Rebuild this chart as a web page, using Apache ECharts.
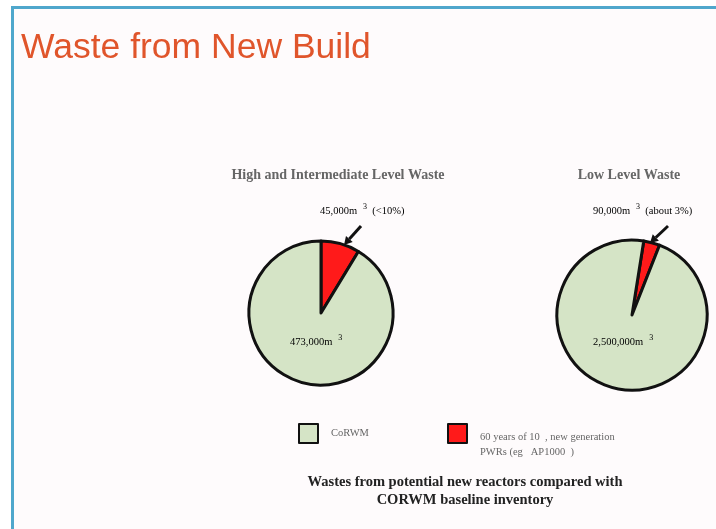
<!DOCTYPE html>
<html>
<head>
<meta charset="utf-8">
<script src="https://cdn.jsdelivr.net/npm/echarts@6/dist/echarts.min.js"></script>
<style>
html,body{margin:0;padding:0;background:#fff;}
#frame{position:absolute;left:11px;top:6px;width:705px;height:523px;border-left:3px solid #4fa7cc;border-top:3px solid #4fa7cc;background:#fefbfc;box-sizing:border-box;}
#chart{position:absolute;left:0;top:0;width:716px;height:529px;}
</style>
</head>
<body>
<div id="frame"></div>
<div id="chart"></div>
<script>
// ---- data ----
const categories = ['60 years of 10  , new generation\nPWRs (eg   AP1000  )', 'CoRWM'];
const legendOrder = ['CoRWM', '60 years of 10  , new generation\nPWRs (eg   AP1000  )'];
const hilwValues = [45000, 473000];
const llwValues = [90000, 2500000];
const pieTitles = ['High and Intermediate Level Waste', 'Low Level Waste'];
const hilwLabels = ['45,000m', '(<10%)', '473,000m'];
const llwLabels = ['90,000m', '(about 3%)', '2,500,000m'];
const mainTitle = 'Waste from New Build';
const captionLines = ['Wastes from potential new reactors compared with', 'CORWM baseline inventory'];

const colors = ['#ff1a1a', '#d5e4c6'];

const chart = echarts.init(document.getElementById('chart'), null, {renderer: 'canvas'});

function pieData(vals) {
  return vals.map((v, i) => ({name: categories[i], value: v, itemStyle: {color: colors[i]}}));
}

const serif = '"Liberation Serif", "DejaVu Serif", serif';

function sup(main, pct) {
  return '{a|' + main + '}{s|3}' + (pct ? '{a|  ' + pct + '}' : '');
}
const richSmall = {
  a: {fontFamily: serif, fontSize: 10.5, color: '#666'},
  s: {fontFamily: serif, fontSize: 8, color: '#666', padding: [0, 0, 9, 6]}
};

function arrow(x1, y1, x2, y2) {
  const ang = Math.atan2(y2 - y1, x2 - x1);
  const L = 8, W = 4.5;
  const bx = x2 - L * Math.cos(ang), by = y2 - L * Math.sin(ang);
  return [
    {type: 'line', shape: {x1: x1, y1: y1, x2: bx, y2: by}, style: {stroke: '#111', lineWidth: 3}, z: 20},
    {type: 'polygon', shape: {points: [[x2, y2], [bx + W * Math.sin(ang), by - W * Math.cos(ang)], [bx - W * Math.sin(ang), by + W * Math.cos(ang)]]}, style: {fill: '#111'}, z: 20}
  ];
}

const option = {
  backgroundColor: 'transparent',
  animation: false,
  title: [
    {text: mainTitle, left: 21, top: 30, padding: 0, textStyle: {fontFamily: 'Liberation Sans, Arial, sans-serif', fontSize: 35.5, fontWeight: 'normal', color: '#e0552b'}},
    {text: pieTitles[0], left: 338, top: 168, padding: 0, textAlign: 'center', textStyle: {fontFamily: serif, fontSize: 14, fontWeight: 'bold', color: '#666'}},
    {text: pieTitles[1], left: 629, top: 168, padding: 0, textAlign: 'center', textStyle: {fontFamily: serif, fontSize: 14, fontWeight: 'bold', color: '#666'}},
    {text: captionLines.join('\n'), left: 465, top: 473, padding: 0, textAlign: 'center', textStyle: {fontFamily: serif, fontSize: 14.5, fontWeight: 'bold', color: '#222', lineHeight: 18}}
  ],
  legend: [
    {data: [legendOrder[0]], left: 298, top: 423, padding: 0, itemWidth: 19, itemHeight: 19, icon: 'rect', orient: 'vertical',
     textStyle: {fontFamily: serif, fontSize: 10.5, color: '#666', padding: [0, 0, 0, 8]}},
    {data: [legendOrder[1]], left: 447, top: 407, padding: 0, itemWidth: 19, itemHeight: 19, icon: 'rect', orient: 'vertical',
     formatter: name => '{e| }\n' + name.split('\n').map(l => '{t|' + l + '}').join('\n'),
     textStyle: {fontFamily: serif, fontSize: 10.5, color: '#666', padding: [0, 0, 0, 8],
       rich: {e: {fontSize: 4, lineHeight: 23, height: 23}, t: {fontFamily: serif, fontSize: 10.5, color: '#666', lineHeight: 15}}}}
  ],
  series: [
    {type: 'pie', center: [321, 313], radius: 72, startAngle: 90, clockwise: true, label: {show: false}, labelLine: {show: false},
     itemStyle: {borderColor: '#111', borderWidth: 3}, emphasis: {disabled: true}, data: pieData(hilwValues)},
    {type: 'pie', center: [632, 315], radius: 75, startAngle: 81, clockwise: true, label: {show: false}, labelLine: {show: false},
     itemStyle: {borderColor: '#111', borderWidth: 3}, emphasis: {disabled: true}, data: pieData(llwValues)}
  ],
  graphic: [
    {type: 'text', left: 320, top: 203, style: {text: sup(hilwLabels[0], hilwLabels[1]), rich: richSmall}, z: 30},
    {type: 'text', left: 290, top: 334, style: {text: sup(hilwLabels[2]), rich: richSmall}, z: 30},
    {type: 'text', left: 593, top: 203, style: {text: sup(llwLabels[0], llwLabels[1]), rich: richSmall}, z: 30},
    {type: 'text', left: 593, top: 334, style: {text: sup(llwLabels[2]), rich: richSmall}, z: 30}
  ].concat(arrow(361, 226, 344, 245)).concat(arrow(668, 226, 650, 243))
};
chart.setOption(option);
</script>
</body>
</html>
